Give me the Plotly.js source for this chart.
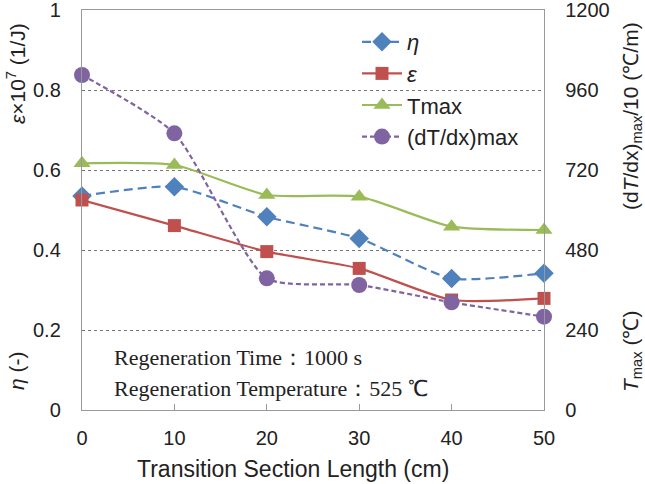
<!DOCTYPE html>
<html><head><meta charset="utf-8">
<script src="https://cdn.plot.ly/plotly-3.0.1.min.js"></script>
<style>html,body{margin:0;padding:0;background:#fff}#chart{width:645px;height:484px}</style>
</head><body><div id="chart"></div>
<script>
const lengths = [0, 10, 20, 30, 40, 50];
const eta = [0.535, 0.558, 0.483, 0.429, 0.329, 0.342];
const epsilon = [0.525, 0.461, 0.396, 0.354, 0.275, 0.279];
const tmax = [740, 735, 645, 640, 550, 540];
const dTdx = [1005, 830, 395, 375, 323, 280];
const leftTicks = [0, 0.2, 0.4, 0.6, 0.8, 1];
const rightTicks = [0, 240, 480, 720, 960, 1200];
const xTicks = [0, 10, 20, 30, 40, 50];

const W = 645, H = 484, L = 82, R = 101, T = 10, B = 74;
const pw = W - L - R, ph = H - T - B;
const px = x => (x - L) / pw;
const py = y => (H - B - y) / ph;

const base = {mode: 'lines+markers', x: lengths, cliponaxis: false};
const traces = [
  Object.assign({}, base, {name: '<i>η</i>', y: eta, yaxis: 'y',
    line: {color: '#4F81BD', width: 2.2, dash: '9px,5px', shape: 'spline', smoothing: 0.6},
    marker: {symbol: 'diamond', size: 15, color: '#4F81BD'}}),
  Object.assign({}, base, {name: '<i>ε</i>', y: epsilon, yaxis: 'y',
    line: {color: '#C0504D', width: 2.2, shape: 'spline', smoothing: 0.6},
    marker: {symbol: 'square', size: 13, color: '#C0504D'}}),
  Object.assign({}, base, {name: 'Tmax', y: tmax, yaxis: 'y2',
    line: {color: '#9BBB59', width: 2.2, shape: 'spline', smoothing: 0.6},
    marker: {symbol: 'triangle-up', size: 15, color: '#9BBB59'}}),
  Object.assign({}, base, {name: '(dT/dx)max', y: dTdx, yaxis: 'y2',
    line: {color: '#8064A2', width: 2.2, dash: '5px,3px', shape: 'spline', smoothing: 0.6},
    marker: {symbol: 'circle', size: 16, color: '#8064A2'}})
];

const sans = 'Liberation Sans, Arial';
const tickFont = {family: sans, size: 20, color: '#222'};
const titleFont = {family: sans, size: 21, color: '#222'};
const serif = {family: 'Liberation Serif, Times New Roman', size: 22, color: '#222'};

const layout = {
  width: W, height: H,
  margin: {l: L, r: R, t: T, b: B},
  paper_bgcolor: '#fff', plot_bgcolor: '#fff',
  showlegend: true,
  legend: {x: px(357), y: py(21), xanchor: 'left', yanchor: 'top',
    bgcolor: 'rgba(0,0,0,0)', font: {family: sans, size: 22, color: '#222'},
    itemwidth: 40, tracegroupgap: 0},
  xaxis: {range: [0, 50], tickvals: xTicks, ticktext: xTicks.map(String),
    showline: true, linecolor: '#999', linewidth: 1.2, mirror: true,
    ticks: 'inside', ticklen: 6, tickcolor: '#999', showgrid: false, zeroline: false,
    tickfont: tickFont, ticklabelstandoff: 10, ticklabeloverflow: 'allow'},
  yaxis: {range: [0, 1], tickvals: leftTicks, ticktext: leftTicks.map(String),
    showline: true, linecolor: '#999', linewidth: 1.2, ticks: '',
    showgrid: true, gridcolor: '#777', griddash: 'dot', gridwidth: 1, zeroline: false,
    tickfont: tickFont, ticklabelstandoff: 16, ticklabeloverflow: 'allow'},
  yaxis2: {range: [0, 1200], tickvals: rightTicks, ticktext: rightTicks.map(String),
    overlaying: 'y', side: 'right', showline: true, linecolor: '#999', linewidth: 1.2,
    ticks: '', showgrid: false, zeroline: false, tickfont: tickFont, ticklabelstandoff: 16,
    ticklabeloverflow: 'allow'},
  annotations: [
    {xref: 'paper', yref: 'paper', x: px(293), y: py(469), text: 'Transition Section Length (cm)',
      showarrow: false, font: {family: sans, size: 23, color: '#222'}, xanchor: 'center', yanchor: 'middle'},
    {xref: 'paper', yref: 'paper', x: px(16), y: py(74), text: '<i>ε</i>×10<sup>7</sup> (1/J)', textangle: -90,
      showarrow: false, font: titleFont, xanchor: 'center', yanchor: 'middle'},
    {xref: 'paper', yref: 'paper', x: px(16), y: py(371), text: '<i>η</i> (-)', textangle: -90,
      showarrow: false, font: titleFont, xanchor: 'center', yanchor: 'middle'},
    {xref: 'paper', yref: 'paper', x: px(632), y: py(116), text: '(d<i>T</i>/dx)<sub>max</sub>/10 (℃/m)', textangle: -90,
      showarrow: false, font: titleFont, xanchor: 'center', yanchor: 'middle'},
    {xref: 'paper', yref: 'paper', x: px(632), y: py(352), text: '<i>T</i><sub>max</sub> (℃)', textangle: -90,
      showarrow: false, font: titleFont, xanchor: 'center', yanchor: 'middle'},
    {xref: 'paper', yref: 'paper', x: px(112), y: py(357), text: 'Regeneration Time：1000 s',
      showarrow: false, font: serif, xanchor: 'left', yanchor: 'middle'},
    {xref: 'paper', yref: 'paper', x: px(112), y: py(388), text: 'Regeneration Temperature：525 ℃',
      showarrow: false, font: serif, xanchor: 'left', yanchor: 'middle'}
  ]
};

Plotly.newPlot('chart', traces, layout, {displayModeBar: false, staticPlot: true});
</script>
</body></html>
